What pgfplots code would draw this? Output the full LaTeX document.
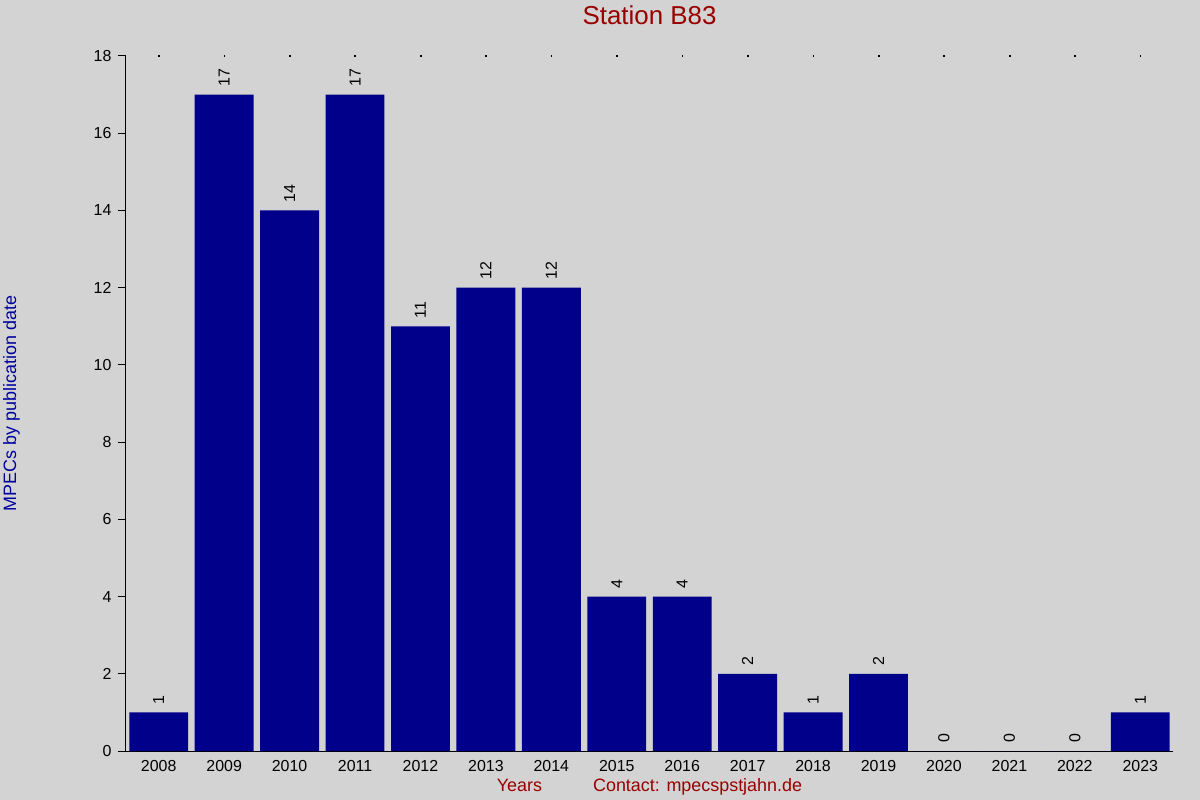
\documentclass[border=0pt]{standalone}
\usepackage{fontspec}
\setmainfont{Liberation Sans}
\usepackage{pgfplots}
\pgfplotsset{compat=1.18}
\definecolor{bg}{RGB}{211,211,211}
\definecolor{barblue}{RGB}{0,0,139}
\definecolor{titlered}{RGB}{153,0,0}
\definecolor{lblblue}{RGB}{0,0,160}

\begin{document}
\begin{tikzpicture}
\path[use as bounding box, fill=bg] (-126bp,-49bp) rectangle (1074bp,751bp);
\begin{axis}[
  at={(0bp,0bp)}, anchor=south west,
  scale only axis, width=1047bp, height=695bp,
  xmin=-0.5, xmax=15.5, ymin=0, ymax=18,
  clip=false,
  axis x line=bottom, axis y line=left,
  axis line style={-, black, line width=1bp},
  xtick={0,...,15},
  xticklabels={2008,2009,2010,2011,2012,2013,2014,2015,2016,2017,2018,2019,2020,2021,2022,2023},
  xtick style={draw=none},
  ytick={0,2,...,18},
  ytick style={black, line width=1bp},
  tick align=outside, major tick length=8bp,
  /pgf/number format/assume math mode=true,
  tick label style={font=\fontsize{16}{19}\selectfont, black},
  xticklabel style={yshift=2bp},
  yticklabel style={xshift=-3bp},
  title={Station B83},
  title style={at={(0.5,1.0374)}, anchor=base, font=\fontsize{26}{31}\selectfont, text=titlered},
  xlabel={Years\hspace{51bp}Contact: mpecspstjahn.de},
  xlabel style={at={(0.5,-0.05856)}, anchor=base, font=\fontsize{18}{22}\selectfont, text=titlered},
  ylabel={MPECs by publication date},
  ylabel style={at={(-0.10506,0.5)}, anchor=base, font=\fontsize{18}{22}\selectfont, text=lblblue},
]
\addplot[ybar, fill=barblue, draw=none, bar width=0.9,
  nodes near coords,
  nodes near coords style={rotate=90, anchor=west, inner xsep=8bp, font=\fontsize{16}{19}\selectfont, black}]
  coordinates {(0,1) (1,17) (2,14) (3,17) (4,11) (5,12) (6,12) (7,4) (8,4) (9,2) (10,1) (11,2) (12,0) (13,0) (14,0) (15,1)};
\addplot[only marks, mark=square*, mark size=0.35bp, black]
  coordinates {(0,18) (1,18) (2,18) (3,18) (4,18) (5,18) (6,18) (7,18) (8,18) (9,18) (10,18) (11,18) (12,18) (13,18) (14,18) (15,18)};
\end{axis}
\end{tikzpicture}
\end{document}
